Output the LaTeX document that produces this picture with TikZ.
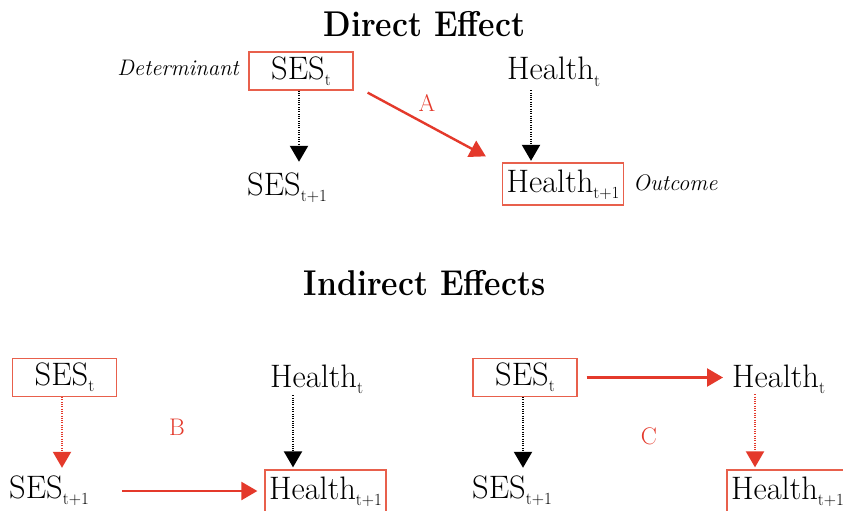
\documentclass[tikz,border=0pt]{standalone}
\usepackage{graphicx}
\usetikzlibrary{arrows.meta}

\definecolor{arrowred}{HTML}{E4392B}
\definecolor{boxred}{HTML}{E8604C}

% time index set below the baseline
\newcommand\lowsub[1]{\raisebox{-6pt}{\fontsize{17pt}{17pt}\selectfont #1}}

\begin{document}
\begin{tikzpicture}[x=1pt,y=1pt,
  var/.style={inner sep=0pt, text height=22pt, text depth=6pt,
    font=\fontsize{32.5pt}{36pt}\selectfont},
  boxed/.style={var, draw=boxred, line width=1.3pt, anchor=center},
  sesbox/.style={boxed, minimum width=104pt, minimum height=38pt},
  healthbox/.style={boxed, minimum width=121pt, minimum height=42pt},
  plain/.style={var, anchor=base west},
  heading/.style={inner sep=0pt, anchor=base,
    font=\fontsize{32pt}{34pt}\selectfont\bfseries},
  role/.style={inner sep=0pt, font=\fontsize{22.5pt}{24pt}\selectfont\itshape},
  pathlabel/.style={inner sep=0pt, text=arrowred,
    font=\fontsize{24pt}{26pt}\selectfont},
  tip/.style={-{Triangle[width=18pt,length=16pt]}},
  dotblack/.style={tip, line width=2.1pt, black, dash pattern=on 1pt off 1.3pt},
  dotred/.style={tip, line width=2.1pt, arrowred, dash pattern=on 1pt off 1.3pt},
  solidred/.style={tip, line width=2.4pt, arrowred},
]
\clip (0,0) rectangle (843,-511);
\fill[white] (0,0) rectangle (843,-511);

% ---- direct effect ----
\node[heading] (t1) at (424.5,-37) {\scalebox{1}[1.12]{Direct Effect}};
\node[sesbox] (sesT) at (301,-71) {SES\lowsub{t}};
\node[role, anchor=base east] (det) at (239,-75) {Determinant};
\node[plain] (sesN) at (247,-195) {SES\lowsub{t+1}};
\node[plain] (hT) at (507,-80) {Health\lowsub{t}};
\node[healthbox] (hN) at (563,-184) {Health\lowsub{t+1}};
\node[role, anchor=base west] (out) at (633,-190) {Outcome};
\node[pathlabel] (labA) at (427,-103) {A};

\draw[dotblack, shorten >=11pt] ([xshift=-2pt]sesT.south) -- ([xshift=-2pt]sesT.south |- sesN.north);
\draw[solidred] ([shift={(14pt,-2pt)}]sesT.south east) -- ([shift={(-16pt,6pt)}]hN.north west);
\draw[dotblack, shorten <=4pt, shorten >=1.5pt] ([xshift=24pt]hT.south west) -- ([xshift=24pt]hT.south west |- hN.north);

% ---- indirect effects ----
\node[heading] (t2) at (424.5,-295) {\scalebox{1}[1.12]{Indirect Effects}};

% path B
\node[sesbox] (bsT) at (64.5,-377.5) {SES\lowsub{t}};
\node[plain] (bsN) at (9,-498) {SES\lowsub{t+1}};
\node[plain] (bHT) at (270,-387) {Health\lowsub{t}};
\node[healthbox] (bHN) at (325.5,-491) {Health\lowsub{t+1}};
\node[pathlabel] (labB) at (177,-427) {B};

\draw[dotred, shorten >=8pt] ([xshift=-2.5pt]bsT.south) -- ([xshift=-2.5pt]bsT.south |- bsN.north);
\draw[solidred, shorten <=33pt, shorten >=7pt] (bsN.east |- bHN.west) -- (bHN.west);
\draw[dotblack, shorten <=2pt, shorten >=2pt] ([xshift=23pt]bHT.south west) -- ([xshift=23pt]bHT.south west |- bHN.north);

% path C
\node[sesbox] (cST) at (525,-377.5) {SES\lowsub{t}};
\node[plain] (cSN) at (472,-498) {SES\lowsub{t+1}};
\node[plain] (cHT) at (732,-387) {Health\lowsub{t}};
\node[healthbox] (cHN) at (787.5,-491) {Health\lowsub{t+1}};
\node[pathlabel] (labC) at (649,-436) {C};

\draw[solidred, shorten <=9pt, shorten >=9pt] (cST.east) -- (cST.east -| cHT.west);
\draw[dotblack, shorten >=8pt] ([xshift=-2pt]cST.south) -- ([xshift=-2pt]cST.south |- cSN.north);
\draw[dotred, shorten <=1pt, shorten >=2pt] ([xshift=23pt]cHT.south west) -- ([xshift=23pt]cHT.south west |- cHN.north);
\end{tikzpicture}
\end{document}
